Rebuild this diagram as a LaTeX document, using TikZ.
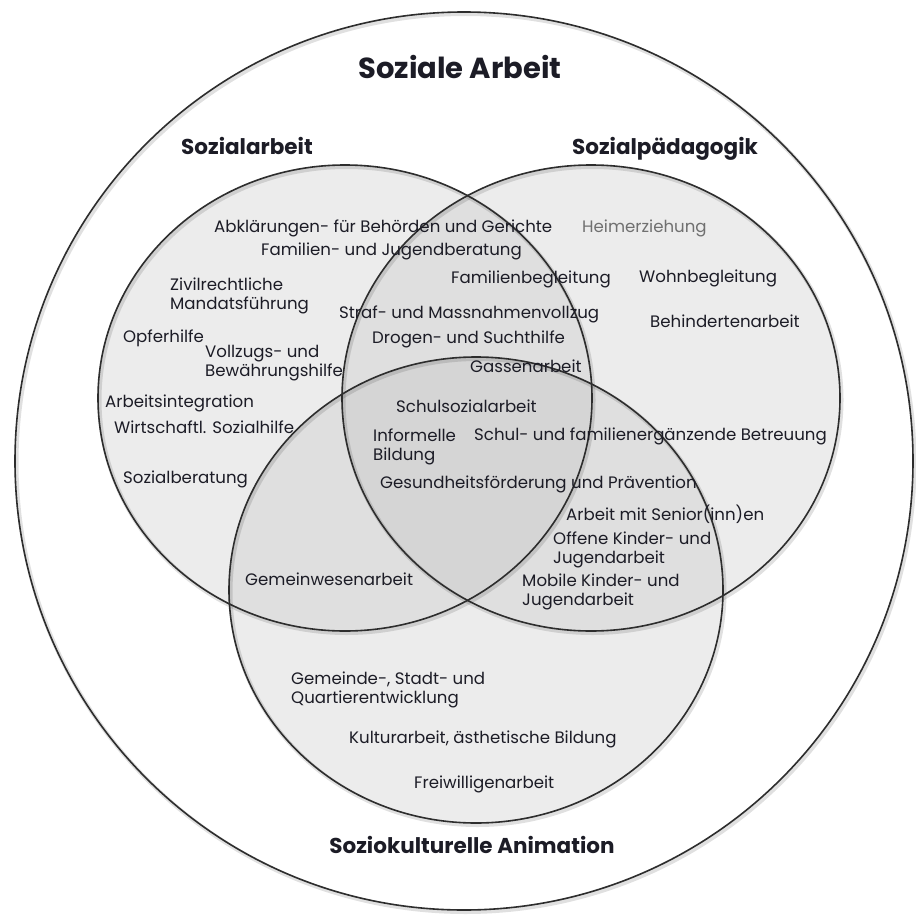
\documentclass[tikz,border=0pt]{standalone}
\usepackage{fontspec}
\setmainfont{Poppins}
\definecolor{ink}{RGB}{28,28,38}
\definecolor{inkmut}{RGB}{112,112,112}
\definecolor{ringcol}{RGB}{45,45,45}
\definecolor{fillone}{RGB}{236,236,236}
\definecolor{filltwo}{RGB}{223,223,223}
\definecolor{fillthree}{RGB}{213,213,213}
\newcommand{\sarbeit}{(345,398) ellipse [x radius=247pt, y radius=233pt]}
\newcommand{\spaed}{(591,398) ellipse [x radius=249pt, y radius=233pt]}
\newcommand{\skult}{(476,590) ellipse [x radius=247pt, y radius=233pt]}
\newcommand{\sganz}{(464,461) circle [radius=449pt]}

\begin{document}
\begin{tikzpicture}[x=1pt,y=-1pt,
  ring/.style={draw=ringcol,line width=1.6pt},
  ringshade/.style={draw=black,line width=4pt,opacity=.12},
  head/.style={anchor=base,inner sep=0pt,text=ink,font=\fontsize{21.5}{25}\selectfont\bfseries},
  item/.style={anchor=base west,inner sep=0pt,align=left,text=ink,font=\fontsize{16.6}{18.8}\selectfont}]
\useasboundingbox (0,0) rectangle (915,915);
% areas
\fill[fillone] \sarbeit; \fill[fillone] \spaed; \fill[fillone] \skult;
\begin{scope}\clip \sarbeit; \fill[filltwo] \spaed; \fill[filltwo] \skult; \end{scope}
\begin{scope}\clip \spaed; \fill[filltwo] \skult; \end{scope}
\begin{scope}\clip \sarbeit; \clip \spaed; \fill[fillthree] \skult; \end{scope}
% outlines with soft shadow
\begin{scope}[shift={(1.5,2)}]
  \draw[ringshade] \sganz; \draw[ringshade] \sarbeit; \draw[ringshade] \spaed; \draw[ringshade] \skult;
\end{scope}
\draw[ring] \sganz; \draw[ring] \sarbeit; \draw[ring] \spaed; \draw[ring] \skult;
% headings
\node[head,font=\fontsize{29}{32}\selectfont\bfseries] (ganz) at (460,79) {Soziale Arbeit};
\node[head] (sa) at (247,154) {Sozialarbeit};
\node[head] (sp) at (665,154) {Sozialpädagogik};
\node[head] (sk) at (472,853) {Soziokulturelle Animation};
% items (two-line items sit on the baseline of their last line)
\node[item] (abkl) at (214,232) {Abklärungen- für Behörden und Gerichte};
\node[item,text=inkmut] (heim) at (582,232) {Heimerziehung};
\node[item] (famjug) at (261,255) {Familien- und Jugendberatung};
\node[item] (zivil) at (170,309) {Zivilrechtliche\\Mandatsführung};
\node[item] (fambeg) at (451,283) {Familienbegleitung};
\node[item] (wohn) at (639,282) {Wohnbegleitung};
\node[item] (straf) at (339,318) {Straf- und Massnahmenvollzug};
\node[item] (behind) at (650,327) {Behindertenarbeit};
\node[item] (opfer) at (123,342) {Opferhilfe};
\node[item] (vollz) at (205,376) {Vollzugs- und\\Bewährungshilfe};
\node[item] (drogen) at (372,343) {Drogen- und Suchthilfe};
\node[item] (gasse) at (470,372) {Gassenarbeit};
\node[item] (arbint) at (105,407) {Arbeitsintegration};
\node[item] (schulsoz) at (396,412) {Schulsozialarbeit};
\node[item] (wirt) at (114,433) {Wirtschaftl. Sozialhilfe};
\node[item] (inform) at (373,460) {Informelle\\Bildung};
\node[item] (betreu) at (474,440) {Schul- und familienergänzende Betreuung};
\node[item] (sozber) at (123,483) {Sozialberatung};
\node[item] (gesund) at (380,488) {Gesundheitsförderung und Prävention};
\node[item] (senior) at (566,520) {Arbeit mit Senior(inn)en};
\node[item] (offen) at (553,563) {Offene Kinder- und\\Jugendarbeit};
\node[item] (gemwes) at (245,585) {Gemeinwesenarbeit};
\node[item] (mobil) at (522,605) {Mobile Kinder- und\\Jugendarbeit};
\node[item] (quart) at (291,703) {Gemeinde-, Stadt- und\\Quartierentwicklung};
\node[item] (kultur) at (349,743) {Kulturarbeit, ästhetische Bildung};
\node[item] (freiw) at (414,788) {Freiwilligenarbeit};
\end{tikzpicture}
\end{document}
